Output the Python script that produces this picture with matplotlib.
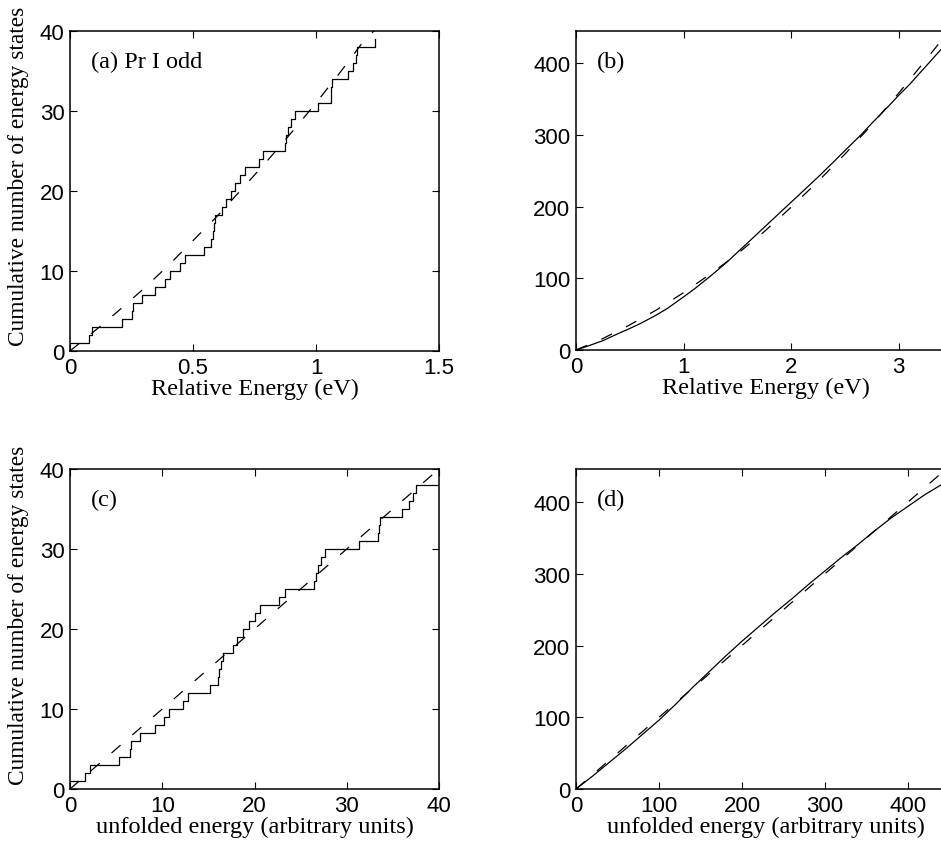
import matplotlib
matplotlib.use("Agg")
import matplotlib.pyplot as plt

# ------------------------
# (a) Pr I odd levels: energy (eV) where the cumulative count steps up
# ------------------------
levels_ev = [0.0, 0.076, 0.089, 0.211, 0.252, 0.257, 0.293, 0.347, 0.387, 0.405,
             0.446, 0.466, 0.545, 0.575, 0.580, 0.585, 0.590, 0.617, 0.634, 0.654,
             0.671, 0.691, 0.711, 0.770, 0.786, 0.874, 0.880, 0.888, 0.900, 0.915,
             1.010, 1.061, 1.063, 1.066, 1.131, 1.149, 1.163, 1.168, 1.240]
counts_a = [1, 2, 3, 4, 5, 6, 7, 8, 9, 10,
            11, 12, 13, 14, 15, 16, 17, 18, 19, 20,
            21, 22, 23, 24, 25, 26, 27, 28, 29, 30,
            31, 32, 33, 34, 35, 36, 37, 38, 39]
# smooth fit to the staircase
fit_a_ev = [0.0, 0.1, 0.2, 0.3, 0.4, 0.5, 0.6, 0.7, 0.8, 0.9, 1.0, 1.1, 1.2, 1.25]
fit_a_n = [0.0, 2.5, 5.1, 7.8, 10.7, 13.8, 16.9, 20.3, 23.7, 27.3, 31.0, 34.9, 39.0, 40.4]

# ------------------------
# (b) full spectrum, cumulative count vs energy
# ------------------------
spec_ev = [0.0, 0.1, 0.25, 0.35, 0.5, 0.6, 0.75, 0.85, 1.0, 1.1, 1.25, 1.4, 1.5, 1.6,
           1.75, 1.9, 2.0, 2.1, 2.25, 2.4, 2.5, 2.65, 2.75, 2.9, 3.0, 3.1, 3.25, 3.4, 3.5]
spec_n = [0, 5, 13, 20, 30, 37, 49, 58, 74, 85, 103, 122, 136, 150,
          171, 192, 206, 220, 241, 263, 278, 300, 316, 339, 355, 370, 395, 420, 436]
fit_b_ev = [0.0, 0.25, 0.5, 0.75, 1.0, 1.25, 1.5, 1.75, 2.0, 2.25, 2.5, 2.75, 3.0, 3.25, 3.4, 3.5]
fit_b_n = [0, 16, 35, 56, 80, 106, 134, 165, 199, 235, 273, 314, 358, 404, 432, 452]

# ------------------------
# (c) Pr I odd levels after unfolding
# ------------------------
levels_unf = [0.0, 1.66, 2.12, 5.26, 6.45, 6.63, 7.64, 9.22, 10.23, 10.77,
              12.22, 12.76, 15.15, 16.07, 16.2, 16.4, 16.6, 17.66, 18.09, 18.74,
              19.39, 20.0, 20.65, 22.7, 23.35, 26.5, 26.7, 26.9, 27.2, 27.6,
              31.35, 33.4, 33.5, 33.6, 36.04, 36.76, 37.2, 37.5, 40.0]
counts_c = [1, 2, 3, 4, 5, 6, 7, 8, 9, 10,
            11, 12, 13, 14, 15, 16, 17, 18, 19, 20,
            21, 22, 23, 24, 25, 26, 27, 28, 29, 30,
            31, 32, 33, 34, 35, 36, 37, 38, 38]
ref_c = [0, 40]

# ------------------------
# (d) full spectrum after unfolding
# ------------------------
spec_unf = [0, 20, 40, 60, 80, 100, 120, 140, 160, 180, 200, 220, 240, 260,
            280, 300, 320, 340, 360, 380, 400, 420, 440, 460]
spec_unf_n = [0, 18, 37, 56, 76, 96, 118, 141, 163, 185, 206, 226, 246, 265,
              285, 304, 323, 341, 360, 378, 394, 410, 424, 438]
ref_d = [0, 470]

# ------------------------
# FIGURE
# ------------------------
SANS = ["Liberation Sans", "DejaVu Sans"]
SERIF = ["Liberation Serif", "DejaVu Serif"]
LW = 0.9
DASH = (9.5, 12.5)
TICK_FS = 16
TEXT_FS = 17.5

fig = plt.figure(figsize=(9.41, 8.53), dpi=100)

W, H = 941.0, 853.0
def box(x0, y0, x1, y1):
    # pixel box (top-left origin) -> figure fraction rect
    return [x0 / W, 1 - y1 / H, (x1 - x0) / W, (y1 - y0) / H]

ax_a = fig.add_axes(box(70, 32, 439, 352))
ax_b = fig.add_axes(box(576, 32, 956, 351))
ax_c = fig.add_axes(box(70, 470, 439, 790))
ax_d = fig.add_axes(box(576, 470, 956, 790))

ax_a.step(levels_ev, counts_a, where="post", color="k", lw=LW)
ax_a.plot(fit_a_ev, fit_a_n, color="k", lw=LW, dashes=DASH)
ax_a.set_xlim(0, 1.5)
ax_a.set_ylim(0, 40)
ax_a.set_xticks([0, 0.5, 1, 1.5], ["0", "0.5", "1", "1.5"])
ax_a.set_yticks([0, 10, 20, 30, 40])

ax_b.plot(spec_ev, spec_n, color="k", lw=LW)
ax_b.plot(fit_b_ev, fit_b_n, color="k", lw=LW, dashes=DASH)
ax_b.set_xlim(0, 380 / 107.5)
ax_b.set_ylim(0, 445)
ax_b.set_xticks([0, 1, 2, 3])
ax_b.set_yticks([0, 100, 200, 300, 400])

ax_c.step(levels_unf, counts_c, where="post", color="k", lw=LW)
ax_c.plot(ref_c, ref_c, color="k", lw=LW, dashes=DASH)
ax_c.set_xlim(0, 40)
ax_c.set_ylim(0, 40)
ax_c.set_xticks([0, 10, 20, 30, 40])
ax_c.set_yticks([0, 10, 20, 30, 40])

ax_d.plot(spec_unf, spec_unf_n, color="k", lw=LW)
ax_d.plot(ref_d, ref_d, color="k", lw=LW, dashes=DASH)
ax_d.set_xlim(0, 380 / 0.83)
ax_d.set_ylim(0, 446)
ax_d.set_xticks([0, 100, 200, 300, 400])
ax_d.set_yticks([0, 100, 200, 300, 400])

for ax, tag in [(ax_a, "(a) Pr I odd"), (ax_b, "(b)"), (ax_c, "(c)"), (ax_d, "(d)")]:
    ax.tick_params(direction="in", top=True, right=True, length=5, width=0.8,
                   labelsize=TICK_FS, pad=4)
    for lab in ax.get_xticklabels() + ax.get_yticklabels():
        lab.set_family(SANS)
    for s in ax.spines.values():
        s.set_linewidth(1.1)
    ax.text(21 / ax.bbox.width, 0.905, tag, transform=ax.transAxes,
            ha="left", va="center", fontsize=TEXT_FS, family=SERIF)

ax_a.set_xlabel("Relative Energy (eV)", fontsize=TEXT_FS, family=SERIF, labelpad=0)
ax_b.set_xlabel("Relative Energy (eV)", fontsize=TEXT_FS, family=SERIF, labelpad=0)
ax_c.set_xlabel("unfolded energy (arbitrary units)", fontsize=TEXT_FS, family=SERIF, labelpad=0)
ax_d.set_xlabel("unfolded energy (arbitrary units)", fontsize=TEXT_FS, family=SERIF, labelpad=0)

YLAB_FS = 16.8
ax_a.set_ylabel("Cumulative number of energy states", fontsize=YLAB_FS, family=SERIF)
ax_a.yaxis.set_label_coords(-0.112, 0.55)
ax_c.set_ylabel("Cumulative number of energy states", fontsize=YLAB_FS, family=SERIF)
ax_c.yaxis.set_label_coords(-0.112, 0.545)

fig.savefig("out.png", dpi=100)
